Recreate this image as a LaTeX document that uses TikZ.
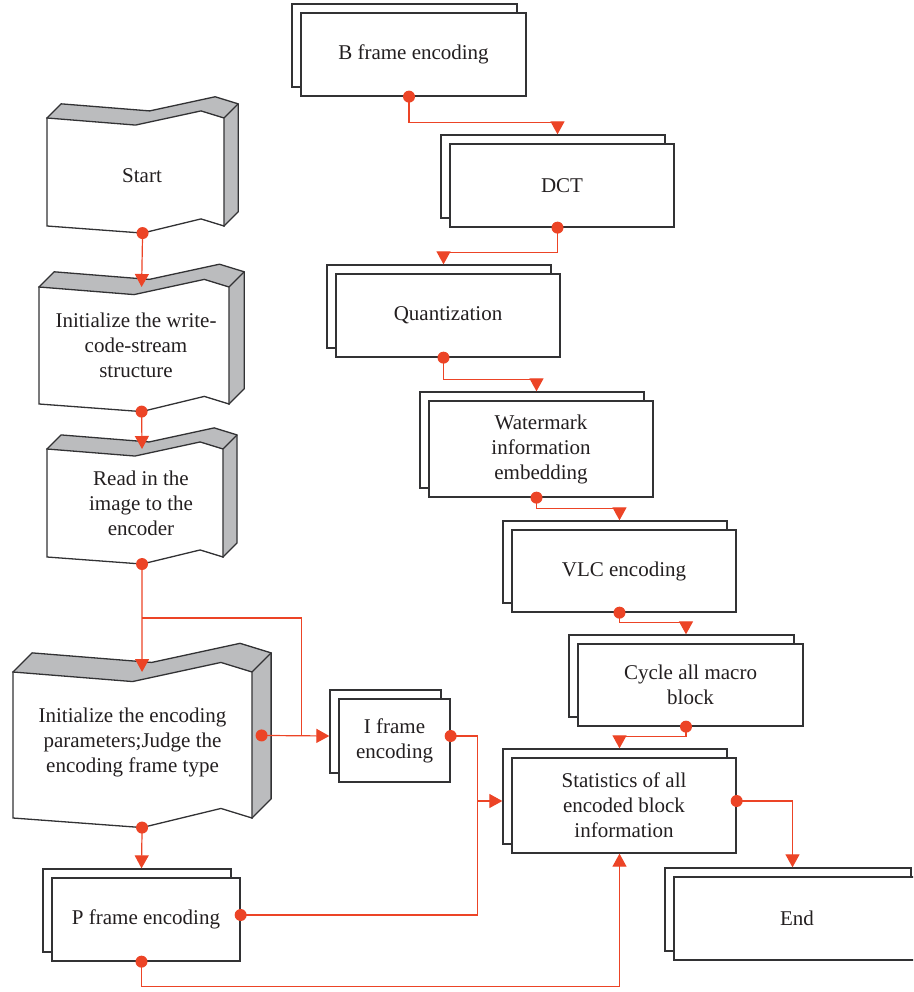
\documentclass[tikz,border=0pt]{standalone}
\usepackage{fontspec}
\setmainfont{Liberation Serif}
\usetikzlibrary{arrows.meta,calc}
\definecolor{fred}{RGB}{236,68,38}
\definecolor{fgrey}{RGB}{187,188,190}
\definecolor{fline}{RGB}{50,50,52}
\definecolor{ftext}{RGB}{35,31,32}
\tikzset{
  boxback/.style={draw=fline, line width=1.3pt, fill=white, inner sep=0pt},
  boxfront/.style={draw=fline, line width=1.3pt, fill=white, align=center,
    font=\fontsize{21}{25}\selectfont, text=ftext, inner sep=0pt},
  flow/.style={draw=fred, line width=1.2pt},
  flowarr/.style={flow, -{Triangle[width=14pt,length=13pt]}},
  fdot/.style={circle, fill=fred, inner sep=0pt, minimum size=12pt},
  bannertext/.style={align=center, font=\fontsize{21}{25}\selectfont, text=ftext},
  bannerface/.style={draw=fline, line width=1.3pt, fill=white, line join=miter},
  bannerside/.style={draw=fline, line width=1.3pt, fill=fgrey},
}
\newcommand\stk[6]{%
  \node[boxback, minimum width={#4-#2}, minimum height={#5-#3}] (#1b) at ({(#2+#4)/2-9},{(#3+#5)/2-9}) {};
  \node[boxfront, minimum width={#4-#2}, minimum height={#5-#3}] (#1) at ({(#2+#4)/2},{(#3+#5)/2}) {#6};
  \coordinate (#1n) at ($(#1b.north)+(4.5,0)$);
  \coordinate (#1s) at ($(#1.south)+(-4.5,0)$);
  \coordinate (#1e) at ($(#1.east)+(0,-4.5)$);
  \coordinate (#1w) at ($(#1b.west)+(0,4.5)$);
}
\newcommand\banner[8]{%
  \pgfmathsetmacro\bw{#4-#2}
  \pgfmathsetmacro\bh{0.04*\bw}
  \pgfmathsetmacro\bd{0.08*\bw}
  \pgfmathsetmacro\xa{#2+0.5*\bw}
  \pgfmathsetmacro\xb{#2+0.54*\bw}
  \pgfmathsetmacro\xc{#2+0.87*\bw}
  \draw[bannerside] (#2,#3) -- ({#2+\bd},{#3-\bd}) -- ({\xa+\bd},{#3+\bh-\bd})
    -- ({\xc+\bd},{#3-\bh-\bd}) -- ({#4+\bd},{#3-\bd}) -- ({#4+\bd},{#5-\bd}) -- (#4,#5) -- cycle;
  \draw[bannerface] (#2,#3) -- (\xa,{#3+\bh}) -- (\xc,{#3-\bh}) -- (#4,#3) -- (#4,#5)
    -- (\xc,{#5-\bh}) -- (\xb,{#5+\bh}) -- (#2,#5) -- cycle;
  \draw[draw=fline, line width=1.3pt] (#4,#3) -- ({#4+\bd},{#3-\bd});
  \node[bannertext] (#1) at (#7,#8) {#6};
  \coordinate (#1top) at ({\xa+\bd/2},{#3});
  \coordinate (#1bot) at (\xb,{#5+\bh});
  \coordinate (#1side) at ({#4+\bd/2},{(#3+#5)/2-\bd/2});
}
\begin{document}
\begin{tikzpicture}[x=1pt,y=-1pt]
\useasboundingbox (0,0) rectangle (913,992);
\clip (0,0) rectangle (913,992);
% banners
\banner{start}{47}{118}{224}{226}{Start}{142}{176}
\banner{iw}{39}{287}{229}{404}{Initialize the write-\\code-stream\\structure}{136}{345}
\banner{rd}{47}{449}{223}{557}{Read in the\\image to the\\encoder}{141}{503}
\banner{pm}{13}{672}{252}{818}{Initialize the encoding\\parameters;Judge the\\encoding frame type}{132.5}{742}
% stacked boxes
\stk{bf}{301}{13}{526}{96}{B frame encoding}
\stk{dct}{450}{144}{674}{227}{DCT}
\stk{qz}{336}{274}{560}{357}{Quantization}
\stk{wm}{429}{401}{653}{497}{Watermark\\information\\embedding}
\stk{vlc}{512}{530}{736}{612}{VLC encoding}
\stk{cyc}{578}{644}{803}{726}{Cycle all macro\\block}
\stk{st}{512}{758}{736}{853}{Statistics of all\\encoded block\\information}
\stk{en}{674}{877}{920}{960}{End}
\stk{ifr}{339}{699}{450}{782}{I frame\\encoding}
\stk{pfr}{52}{878}{240}{961}{P frame encoding}
% left column connectors
\draw[flowarr] (startbot) -- (iwtop);
\draw[flowarr] (iwbot) -- (rdtop);
\draw[flowarr] (rdbot) -- (pmtop);
\coordinate (split) at (142,618);
\coordinate (join) at ($(ifrw)+(-28,0)$);
\draw[flow] (split) -| (join);
\draw[flowarr] (pmside) -- (ifrw);
\draw[flowarr] (pmbot) -- (pfrn);
\coordinate (merge) at ($(ifre)+(27,0)$);
\draw[flowarr] (ifre) -| (merge |- stw) -- (stw);
\draw[flow] (pfre) -| (merge |- stw);
\draw[flowarr] (pfrs) -- ++(0,25) -| (sts);
\draw[flowarr] (ste) -| (enn);
% right chain
\draw[flowarr] (bfs) |- ($(dctn)+(0,-12)$) -- (dctn);
\draw[flowarr] (dcts) |- ($(qzn)+(0,-12)$) -- (qzn);
\draw[flowarr] (qzs) |- ($(wmn)+(0,-12)$) -- (wmn);
\draw[flowarr] (wms) |- ($(vlcn)+(0,-12)$) -- (vlcn);
\draw[flowarr] (vlcs) |- ($(cycn)+(0,-12)$) -- (cycn);
\draw[flowarr] (cycs) |- ($(stn)+(0,-12)$) -- (stn);
% dots
\foreach \p in {startbot,iwbot,rdbot,pmside,pmbot,bfs,dcts,qzs,wms,vlcs,cycs,ifre,pfre,pfrs,ste}
  \node[fdot] (dot-\p) at (\p) {};
\end{tikzpicture}
\end{document}
